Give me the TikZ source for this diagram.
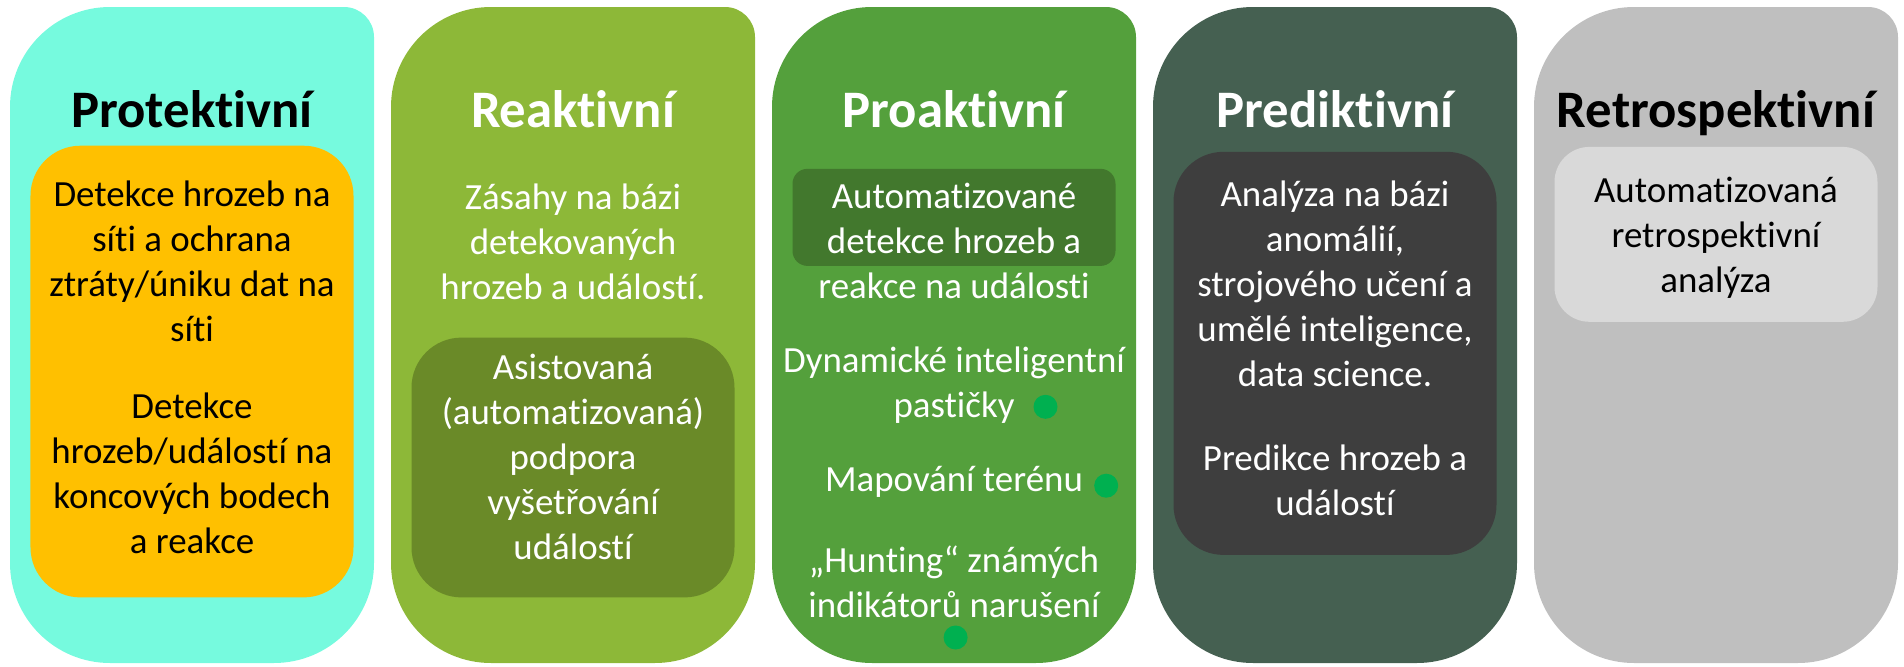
\documentclass[tikz,border=0pt]{standalone}
\usepackage{fontspec}
\setmainfont{Carlito}[Ligatures=NoCommon]
\usetikzlibrary{positioning}

\definecolor{protbg}{RGB}{118,250,222}
\definecolor{protbox}{RGB}{255,192,0}
\definecolor{reakbg}{RGB}{141,184,56}
\definecolor{reakbox}{RGB}{106,138,40}
\definecolor{proabg}{RGB}{84,160,60}
\definecolor{proabox}{RGB}{66,120,45}
\definecolor{predbg}{RGB}{69,96,81}
\definecolor{predbox}{RGB}{62,62,62}
\definecolor{retrbg}{RGB}{191,191,191}
\definecolor{retrbox}{RGB}{217,217,217}
\definecolor{dotgreen}{RGB}{0,176,80}

\tikzset{
	ttl/.style={font=\fontsize{15}{18}\selectfont\bfseries, anchor=base, inner sep=0pt},
	txt/.style={font=\fontsize{10.5}{12.8}\selectfont, align=center, inner sep=0pt},
	gdot/.style={circle, fill=dotgreen, minimum size=0.24cm, inner sep=0pt},
}

\begin{document}
\begin{tikzpicture}
	\useasboundingbox (0,0) rectangle (19.04,6.66);
	% columns
	\foreach \lx/\cc in {0.10/protbg, 3.91/reakbg, 7.72/proabg, 11.53/predbg, 15.34/retrbg}
	\fill[\cc] (\lx,5.59) arc[start angle=180, end angle=90, radius=1] -- ++(2.34,0)
	arc[start angle=90, end angle=0, radius=0.3] -- ++(0,-5.26)
	arc[start angle=0, end angle=-90, radius=1] -- ++(-1.64,0)
	arc[start angle=270, end angle=180, radius=1] -- cycle;
	% inner boxes
	\fill[protbox, rounded corners=0.5cm] (0.305,5.203) rectangle (3.535,0.686);
	\fill[reakbox, rounded corners=0.5cm] (4.115,3.284) rectangle (7.345,0.686);
	\fill[proabox, rounded corners=0.15cm] (7.925,4.972) rectangle (11.155,4.001);
	\fill[predbox, rounded corners=0.5cm] (11.735,5.142) rectangle (14.965,1.111);
	\fill[retrbox, rounded corners=0.35cm] (15.545,5.191) rectangle (18.775,3.442);
	% titles
	\node[ttl] (T1) at (1.92,5.39) {Protektivní};
	\node[ttl, white] (T2) at (5.73,5.39) {Reaktivní};
	\node[ttl, white] (T3) at (9.54,5.39) {Proaktivní};
	\node[ttl, white] (T4) at (13.35,5.39) {Prediktivní};
	\node[ttl] (T5) at (17.16,5.39) {Retrospektivní};
	% texts
	\node[txt] (P1) at (1.92,2.987) {Detekce hrozeb na\\síti a ochrana\\ztráty/úniku dat na\\síti\\[9pt]Detekce\\hrozeb/událostí na\\koncových bodech\\a reakce};
	\node[txt, white] (R1) at (5.73,4.244) {Zásahy na bázi\\detekovaných\\hrozeb a událostí.};
	\node[txt, white] (R2) at (5.73,2.094) {Asistovaná\\(automatizovaná)\\podpora\\vyšetřování\\událostí};
	\node[txt, white] (A1) at (9.54,4.25) {Automatizované\\detekce hrozeb a\\reakce na události};
	\node[txt, white] (A2) at (9.54,2.805) {Dynamické inteligentní\\pastičky};
	\node[txt, white] (A3) at (9.54,1.839) {Mapování terénu};
	\node[txt, white] (A4) at (9.54,0.837) {„Hunting“ známých\\indikátorů narušení};
	\node[gdot] (D2) at (10.455,2.592) {};
	\node[gdot] (D3) at (11.062,1.803) {};
	\node[gdot] (D4) at (9.556,0.285) {};
	\node[txt, white] (E1) at (13.35,3.175) {Analýza na bázi\\anomálií,\\strojového učení a\\umělé inteligence,\\data science.\\[11pt]Predikce hrozeb a\\událostí};
	\node[txt] (S1) at (17.16,4.28) {Automatizovaná\\retrospektivní\\analýza};
\end{tikzpicture}
\end{document}
